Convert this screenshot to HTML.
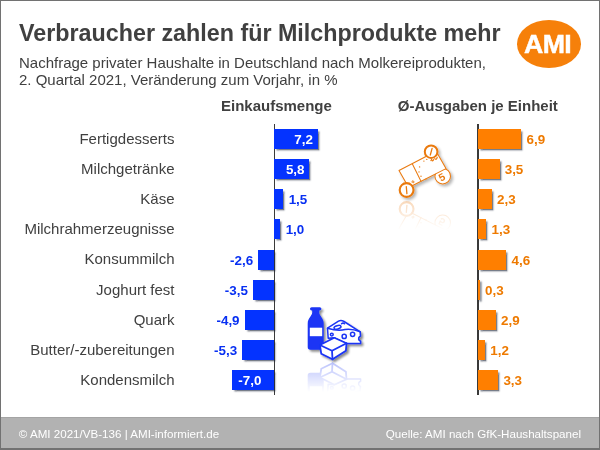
<!DOCTYPE html>
<html lang="de"><head><meta charset="utf-8"><title>Verbraucher zahlen für Milchprodukte mehr</title>
<style>
html,body{margin:0;padding:0;}
body{width:600px;height:450px;position:relative;overflow:hidden;background:#fff;font-family:"Liberation Sans",Arial,sans-serif;color:#404040;}
#frame i{position:absolute;background:#727272;z-index:20}
.abs{position:absolute;white-space:nowrap}
h1{position:absolute;margin:0;left:19px;top:18.7px;font-size:23.3px;line-height:28px;font-weight:bold;white-space:nowrap;color:#404040}
.sub{position:absolute;left:19px;font-size:15px;line-height:18px;white-space:nowrap;color:#404040}
.hd{position:absolute;font-weight:bold;font-size:15px;line-height:18px;white-space:nowrap;color:#404040}
.cat{position:absolute;right:425.5px;font-size:15px;line-height:22px;height:22px;white-space:nowrap;text-align:right;color:#404040}
.bar{position:absolute;height:20.0px;box-shadow:1.6px 1.6px 1.6px rgba(30,40,60,.6)}
.b{background:#0433ff}
.o{background:#ff7f00}
.val{position:absolute;font-weight:bold;font-size:13.4px;line-height:22.0px;height:20.0px;white-space:nowrap}
.w{color:#fff}
.bl{color:#0830f2}
.or{color:#ee7a00}
.axis{position:absolute;width:1.5px;background:#3a3a3a;top:124.2px;height:270.6px}
#foot{position:absolute;left:0;top:416.7px;width:600px;height:34px;background:#b2b2b2;border-top:1px solid #a4a4a4;box-sizing:border-box}
#foot span{position:absolute;top:9.6px;font-size:11.6px;line-height:14px;color:#fff;white-space:nowrap}
#logo{position:absolute;left:516.7px;top:20.3px;width:64.8px;height:48px;border-radius:50%;background:#f6800a}
#logo span{position:absolute;left:7.3px;top:8.9px;font-weight:bold;font-size:26.7px;line-height:30px;color:#fff;letter-spacing:-.6px;-webkit-text-stroke:.5px #fff}
</style></head><body>
<h1>Verbraucher zahlen für Milchprodukte mehr</h1>
<div class="sub" style="top:53.5px">Nachfrage privater Haushalte in Deutschland nach Molkereiprodukten,</div>
<div class="sub" style="top:70.5px">2. Quartal 2021, Veränderung zum Vorjahr, in %</div>
<div id="logo"><span>AMI</span></div>
<div class="hd" style="left:221px;top:96.7px">Einkaufsmenge</div>
<div class="hd" style="left:397.8px;top:96.7px">Ø-Ausgaben je Einheit</div>
<div class="axis" style="left:273.5px"></div>
<div class="axis" style="left:477.0px"></div>
<div class="cat" style="top:127.70px">Fertigdesserts</div>
<div class="bar b" style="left:274.30px;top:128.90px;width:43.56px"></div>
<div class="val w" style="right:287.04px;top:128.90px">7,2</div>
<div class="bar o" style="left:478.40px;top:128.90px;width:43.10px"></div>
<div class="val or" style="left:526.50px;top:128.90px">6,9</div>
<div class="cat" style="top:157.88px">Milchgetränke</div>
<div class="bar b" style="left:274.30px;top:159.08px;width:35.09px"></div>
<div class="val w" style="right:295.51px;top:159.08px">5,8</div>
<div class="bar o" style="left:478.40px;top:159.08px;width:21.30px"></div>
<div class="val or" style="left:504.70px;top:159.08px">3,5</div>
<div class="cat" style="top:188.06px">Käse</div>
<div class="bar b" style="left:274.30px;top:189.26px;width:9.07px"></div>
<div class="val bl" style="left:288.68px;top:189.26px">1,5</div>
<div class="bar o" style="left:478.40px;top:189.26px;width:13.70px"></div>
<div class="val or" style="left:497.10px;top:189.26px">2,3</div>
<div class="cat" style="top:218.24px">Milchrahmerzeugnisse</div>
<div class="bar b" style="left:274.30px;top:219.44px;width:6.05px"></div>
<div class="val bl" style="left:285.65px;top:219.44px">1,0</div>
<div class="bar o" style="left:478.40px;top:219.44px;width:8.10px"></div>
<div class="val or" style="left:491.50px;top:219.44px">1,3</div>
<div class="cat" style="top:248.42px">Konsummilch</div>
<div class="bar b" style="left:258.38px;top:249.62px;width:15.42px"></div>
<div class="val bl" style="right:346.82px;top:249.62px">-2,6</div>
<div class="bar o" style="left:478.40px;top:249.62px;width:28.10px"></div>
<div class="val or" style="left:511.50px;top:249.62px">4,6</div>
<div class="cat" style="top:278.60px">Joghurt fest</div>
<div class="bar b" style="left:253.05px;top:279.80px;width:20.75px"></div>
<div class="val bl" style="right:352.15px;top:279.80px">-3,5</div>
<div class="bar o" style="left:478.40px;top:279.80px;width:1.70px"></div>
<div class="val or" style="left:485.10px;top:279.80px">0,3</div>
<div class="cat" style="top:308.78px">Quark</div>
<div class="bar b" style="left:244.74px;top:309.98px;width:29.06px"></div>
<div class="val bl" style="right:360.46px;top:309.98px">-4,9</div>
<div class="bar o" style="left:478.40px;top:309.98px;width:17.60px"></div>
<div class="val or" style="left:501.00px;top:309.98px">2,9</div>
<div class="cat" style="top:338.96px">Butter/-zubereitungen</div>
<div class="bar b" style="left:242.37px;top:340.16px;width:31.43px"></div>
<div class="val bl" style="right:362.83px;top:340.16px">-5,3</div>
<div class="bar o" style="left:478.40px;top:340.16px;width:6.90px"></div>
<div class="val or" style="left:490.30px;top:340.16px">1,2</div>
<div class="cat" style="top:369.14px">Kondensmilch</div>
<div class="bar b" style="left:232.29px;top:370.34px;width:41.51px"></div>
<div class="val w" style="left:238.29px;top:370.34px">-7,0</div>
<div class="bar o" style="left:478.40px;top:370.34px;width:20.00px"></div>
<div class="val or" style="left:503.40px;top:370.34px">3,3</div>
<svg id="icons" class="abs" style="left:0;top:0" width="600" height="450" viewBox="0 0 600 450">
<defs>
<filter id="sh2" x="-20%" y="-20%" width="150%" height="150%"><feGaussianBlur in="SourceAlpha" stdDeviation="1.4"/><feOffset dx="1.8" dy="1.8"/><feComponentTransfer><feFuncA type="linear" slope="0.3"/></feComponentTransfer><feMerge><feMergeNode/><feMergeNode in="SourceGraphic"/></feMerge></filter>
<filter id="sh" x="-20%" y="-20%" width="150%" height="150%"><feGaussianBlur in="SourceAlpha" stdDeviation="1.1"/><feOffset dx="1.6" dy="1.6"/><feComponentTransfer><feFuncA type="linear" slope="0.45"/></feComponentTransfer><feMerge><feMergeNode/><feMergeNode in="SourceGraphic"/></feMerge></filter>
<linearGradient id="fadeB" x1="0" y1="362" x2="0" y2="392" gradientUnits="userSpaceOnUse"><stop offset="0" stop-color="#fff" stop-opacity=".3"/><stop offset="1" stop-color="#fff" stop-opacity="0"/></linearGradient>
<mask id="mB" maskUnits="userSpaceOnUse" x="290" y="355" width="90" height="50"><rect x="290" y="355" width="90" height="50" fill="url(#fadeB)"/></mask>
<linearGradient id="fadeO" x1="0" y1="200" x2="0" y2="230" gradientUnits="userSpaceOnUse"><stop offset="0" stop-color="#fff" stop-opacity=".3"/><stop offset="1" stop-color="#fff" stop-opacity="0"/></linearGradient>
<mask id="mO" maskUnits="userSpaceOnUse" x="385" y="195" width="80" height="45"><rect x="385" y="195" width="80" height="45" fill="url(#fadeO)"/></mask>
<g id="dairy" fill="none" stroke="#1a35f5" stroke-width="1.5" stroke-linejoin="round" stroke-linecap="round">
  <!-- bottle -->
  <path d="M311.6,307.2 h8.200 a1.600,1.600 0 0 1 0,3.200 h-0.600 v2.400 c0,2.800 4.500,5.500 4.500,10.600 v23.700 a2.600,2.600 0 0 1 -2.600,2.600 h-10.800 a2.600,2.600 0 0 1 -2.600,-2.600 v-23.700 c0,-5.100 4.500,-7.800 4.500,-10.600 v-2.400 h-0.600 a1.600,1.600 0 0 1 0,-3.200 z" fill="#1a35f5" stroke="none"/>
  <rect x="309.800" y="327.700" width="12.400" height="8.500" fill="#fff" stroke="none"/>
  <!-- cheese -->
  <path d="M327.500,328.200 L338.500,321.200 Q341,319.800 344,321.500 L360.200,331.800 L360.400,336 q-2.200,1.200 -1.800,3 q0.300,1.600 2,2.200 L360.600,343.600 L346,343.400 L334,337.800 L328.200,338.200 Z" fill="#fff"/>
  <path d="M327.500,328.200 Q338,331.500 345,329.500 Q352,328.500 360.200,331.800"/>
  <ellipse cx="337.500" cy="327.300" rx="3.600" ry="1.700" transform="rotate(-14 337.500 327.300)"/>
  <circle cx="352.600" cy="334.300" r="2.100"/>
  <circle cx="344.200" cy="336.400" r="2.100"/>
  <circle cx="331.800" cy="334.600" r="1.400"/>
  <path d="M341.500,323.800 q1.500,-1.300 3,0"/>
  <!-- butter -->
  <path d="M319.900,345 L334.300,337.800 L346.500,343.300 L345.900,350.800 L332.500,359.300 L321.300,353.800 Z" fill="#fff" stroke-width="1.800"/>
  <path d="M319.900,345 L332,350.800 L346.500,343.300 M332,350.800 L332.500,359.300" stroke-width="1.800"/>
</g>
<g id="money" fill="none" stroke="#ea7a10" stroke-width="1.05" stroke-linejoin="round" stroke-linecap="round">
  <!-- 5 coin behind note -->
  <circle cx="442.700" cy="176.200" r="7.800" fill="#fff"/>
  <text x="438.600" y="180.200" font-family="Liberation Sans, sans-serif" font-weight="bold" font-size="10.5" fill="#ea7a10" stroke="none" transform="rotate(-28 442.700 176.200)">5</text>
  <!-- note -->
  <path d="M399,170.500 L436.100,151.300 L446,168.600 L408.700,187.500 Z" fill="#fff"/>
  <path d="M412.400,164 L421,181.300"/>
  <g fill="#ea7a10" stroke="none">
    <circle cx="419.600" cy="166.900" r=".7"/><circle cx="419" cy="171.900" r=".7"/><circle cx="421" cy="176.200" r=".7"/><circle cx="426" cy="179.100" r=".7"/><circle cx="423.900" cy="161.100" r=".7"/><circle cx="426.800" cy="159.400" r=".7"/><circle cx="431" cy="160.500" r=".7"/>
  </g>
  <!-- top coin -->
  <circle cx="431.100" cy="151.700" r="6.300" fill="#fff" stroke-width="2"/>
  <path d="M432.100,148.400 L430.300,155" stroke-width="1.300"/>
  <path d="M431.500,159.300 q1,3 2.200,0.300 M434.800,158.500 q1.600,2 2.400,-1.200" stroke-width="1.200"/>
  <!-- bottom-left coin -->
  <circle cx="406.600" cy="190" r="6.900" fill="#fff" stroke-width="2.100"/>
  <path d="M406.300,186.600 L406.900,193.600" stroke-width="1.300"/>
  <path d="M411.700,181.600 q1.700,-2.200 2.500,0.400 q-0.600,1.600 -1.600,0.600" stroke-width="1"/>
</g>
</defs>
<use href="#dairy" filter="url(#sh)"/>
<g mask="url(#mB)"><use href="#dairy" transform="translate(0,722.500) scale(1,-1)"/></g>
<use href="#money" filter="url(#sh2)"/>
<g mask="url(#mO)"><use href="#money" transform="translate(0,399) scale(1,-1)"/></g>
</svg>

<div id="foot"><span style="left:18.8px">© AMI 2021/VB-136 | AMI-informiert.de</span><span style="right:19px">Quelle: AMI nach GfK-Haushaltspanel</span></div>
<div id="frame"><i style="left:0;top:0;width:600px;height:1.1px"></i><i style="left:0;top:0;width:1.3px;height:450px"></i><i style="right:0;top:0;width:1.3px;height:450px"></i><i style="left:0;bottom:0;width:600px;height:1.7px"></i></div>
</body></html>
